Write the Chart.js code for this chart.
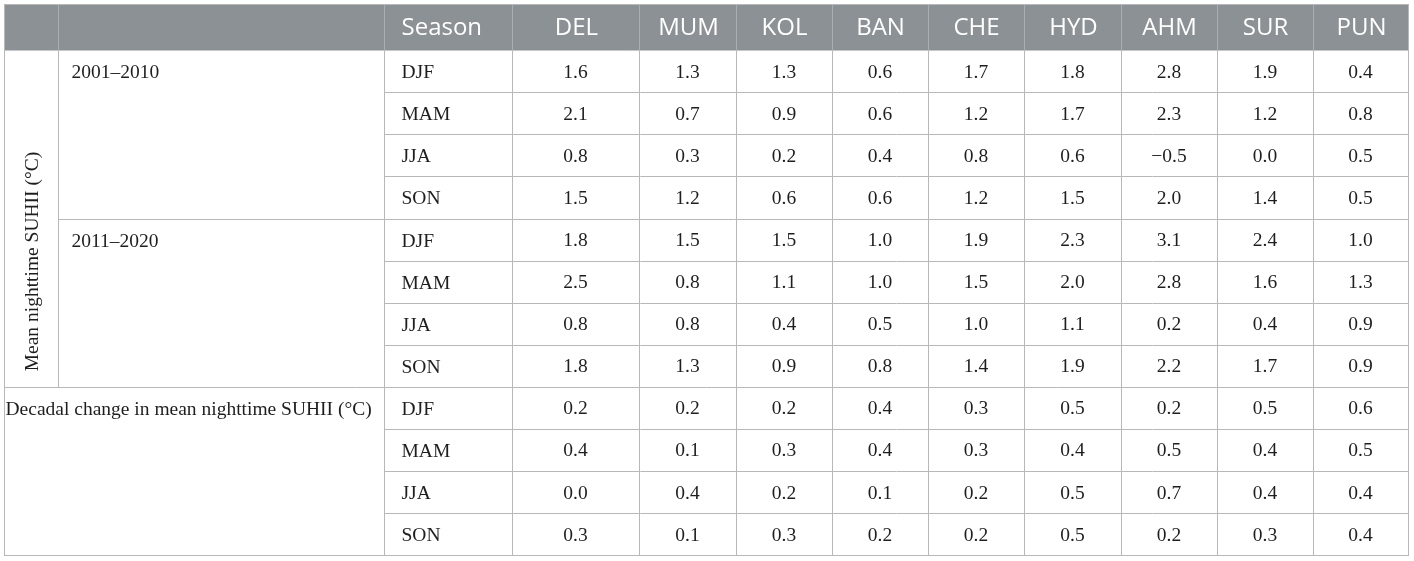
<!DOCTYPE html>
<html>
<head>
<meta charset="utf-8">
<script src="https://cdn.jsdelivr.net/npm/chart.js@4.4.0/dist/chart.umd.min.js"></script>
<style>
  html, body { margin: 0; padding: 0; background: #fff; }
</style>
</head>
<body>
<canvas id="tabla" width="1414" height="561"></canvas>
<script>
// datos de la tabla
const cities = ['DEL', 'MUM', 'KOL', 'BAN', 'CHE', 'HYD', 'AHM', 'SUR', 'PUN']
const seasons = ['DJF', 'MAM', 'JJA', 'SON']
const periods = ['2001–2010', '2011–2020']
const seasonHeader = 'Season'
const groupLabel = 'Mean nighttime SUHII (°C)'
const changeLabel = 'Decadal change in mean nighttime SUHII (°C)'

const djf_2001 = [1.6, 1.3, 1.3, 0.6, 1.7, 1.8, 2.8, 1.9, 0.4]
const mam_2001 = [2.1, 0.7, 0.9, 0.6, 1.2, 1.7, 2.3, 1.2, 0.8]
const jja_2001 = [0.8, 0.3, 0.2, 0.4, 0.8, 0.6, -0.5, 0.0, 0.5]
const son_2001 = [1.5, 1.2, 0.6, 0.6, 1.2, 1.5, 2.0, 1.4, 0.5]

const djf_2011 = [1.8, 1.5, 1.5, 1.0, 1.9, 2.3, 3.1, 2.4, 1.0]
const mam_2011 = [2.5, 0.8, 1.1, 1.0, 1.5, 2.0, 2.8, 1.6, 1.3]
const jja_2011 = [0.8, 0.8, 0.4, 0.5, 1.0, 1.1, 0.2, 0.4, 0.9]
const son_2011 = [1.8, 1.3, 0.9, 0.8, 1.4, 1.9, 2.2, 1.7, 0.9]

const djf_change = [0.2, 0.2, 0.2, 0.4, 0.3, 0.5, 0.2, 0.5, 0.6]
const mam_change = [0.4, 0.1, 0.3, 0.4, 0.3, 0.4, 0.5, 0.4, 0.5]
const jja_change = [0.0, 0.4, 0.2, 0.1, 0.2, 0.5, 0.7, 0.4, 0.4]
const son_change = [0.3, 0.1, 0.3, 0.2, 0.2, 0.5, 0.2, 0.3, 0.4]

const rows = [
  djf_2001, mam_2001, jja_2001, son_2001,
  djf_2011, mam_2011, jja_2011, son_2011,
  djf_change, mam_change, jja_change, son_change
]

// layout (ancho de columnas en unidades del eje x, alto de cabecera en filas)
const colWidths = [54, 326, 128, 127, 97, 96, 96, 96, 97, 96, 96, 95]
const headerRows = 1.1
const firstCityCol = 3

const colEdges = [0]
colWidths.forEach(w => colEdges.push(colEdges[colEdges.length - 1] + w))
const colCenter = i => (colEdges[i] + colEdges[i + 1]) / 2
const rowCenter = r => headerRows + r + 0.5

const headerBg = '#8b9194'
const headerLine = '#a9aeb0'
const gridColor = '#b8b8b8'
const textColor = '#1e1e1e'
const serif = '19.5px "Liberation Serif", "Times New Roman", serif'
const sans = '24px "Open Sans", Lato, sans-serif'
const bodyShift = 1.5
const headShift = 1

const fmt = v => (v < 0 ? '−' : '') + Math.abs(v).toFixed(1)

const points = []
rows.forEach((vals, r) => {
  vals.forEach((v, c) => {
    points.push({ x: colCenter(firstCityCol + c), y: rowCenter(r), v: v })
  })
})

const tablePlugin = {
  id: 'tabla',
  beforeDatasetsDraw(chart) {
    const ctx = chart.ctx
    const X = v => Math.round(chart.scales.x.getPixelForValue(v)) + 0.5
    const Y = v => Math.round(chart.scales.y.getPixelForValue(v)) + 0.5
    const last = colEdges.length - 1
    const nRows = rows.length

    ctx.save()
    // cabecera
    ctx.fillStyle = headerBg
    ctx.fillRect(X(0), Y(0), X(colEdges[last]) - X(0), Y(headerRows) - Y(0))

    ctx.lineWidth = 1
    const line = (x1, y1, x2, y2, color) => {
      ctx.strokeStyle = color
      ctx.beginPath()
      ctx.moveTo(x1, y1)
      ctx.lineTo(x2, y2)
      ctx.stroke()
    }

    // verticales de cabecera
    for (let i = 1; i < last; i++) {
      line(X(colEdges[i]), Y(0), X(colEdges[i]), Y(headerRows), headerLine)
    }

    // horizontales
    for (let r = 1; r < nRows; r++) {
      const yy = Y(headerRows + r)
      let from = colEdges[2]
      if (r % 4 === 0) from = colEdges[1]
      if (r === 8) from = colEdges[0]
      line(X(from), yy, X(colEdges[last]), yy, gridColor)
    }

    // verticales del cuerpo
    line(X(colEdges[1]), Y(headerRows), X(colEdges[1]), Y(headerRows + 8), gridColor)
    for (let i = 2; i < last; i++) {
      line(X(colEdges[i]), Y(headerRows), X(colEdges[i]), Y(headerRows + nRows), gridColor)
    }

    // borde exterior
    ctx.strokeStyle = gridColor
    ctx.strokeRect(X(0), Y(0), X(colEdges[last]) - X(0), Y(headerRows + nRows) - Y(0))

    // textos de cabecera
    ctx.fillStyle = '#ffffff'
    ctx.font = sans
    ctx.textBaseline = 'middle'
    ctx.textAlign = 'left'
    ctx.fillText(seasonHeader, X(colEdges[2]) + 17, Y(headerRows / 2) + headShift)
    ctx.textAlign = 'center'
    cities.forEach((c, i) => {
      ctx.fillText(c, X(colCenter(firstCityCol + i)), Y(headerRows / 2) + headShift)
    })

    // etiquetas de filas
    ctx.fillStyle = textColor
    ctx.font = serif
    ctx.textAlign = 'left'
    rows.forEach((vals, r) => {
      ctx.fillText(seasons[r % 4], X(colEdges[2]) + 17, Y(rowCenter(r)) + bodyShift)
    })
    periods.forEach((p, i) => {
      ctx.fillText(p, X(colEdges[1]) + 13, Y(rowCenter(i * 4)) + bodyShift)
    })
    ctx.fillText(changeLabel, X(colEdges[0]) + 1, Y(rowCenter(8)) + bodyShift)

    // etiqueta vertical
    ctx.save()
    ctx.translate(X(colCenter(0)) + 1, Y(headerRows + 5))
    ctx.rotate(-Math.PI / 2)
    ctx.textAlign = 'center'
    ctx.fillText(groupLabel, 0, 0)
    ctx.restore()

    ctx.restore()
  },
  afterDatasetsDraw(chart) {
    const ctx = chart.ctx
    const meta = chart.getDatasetMeta(0)
    const data = chart.data.datasets[0].data
    ctx.save()
    ctx.fillStyle = textColor
    ctx.font = serif
    ctx.textAlign = 'center'
    ctx.textBaseline = 'middle'
    meta.data.forEach((pt, i) => {
      ctx.fillText(fmt(data[i].v), pt.x, pt.y + bodyShift)
    })
    ctx.restore()
  }
}

window.addEventListener('load', () => {
  new Chart(document.getElementById('tabla'), {
    type: 'scatter',
    data: {
      datasets: [{
        label: 'SUHII',
        data: points,
        pointRadius: 0,
        pointHoverRadius: 0
      }]
    },
    options: {
      responsive: false,
      animation: false,
      events: [],
      layout: { padding: { left: 4, right: 6, top: 4, bottom: 6 } },
      plugins: { legend: { display: false }, tooltip: { enabled: false } },
      scales: {
        x: { type: 'linear', display: false, min: 0, max: colEdges[colEdges.length - 1] },
        y: { type: 'linear', display: false, reverse: true, min: 0, max: headerRows + rows.length }
      }
    },
    plugins: [tablePlugin]
  })
})
</script>
</body>
</html>
